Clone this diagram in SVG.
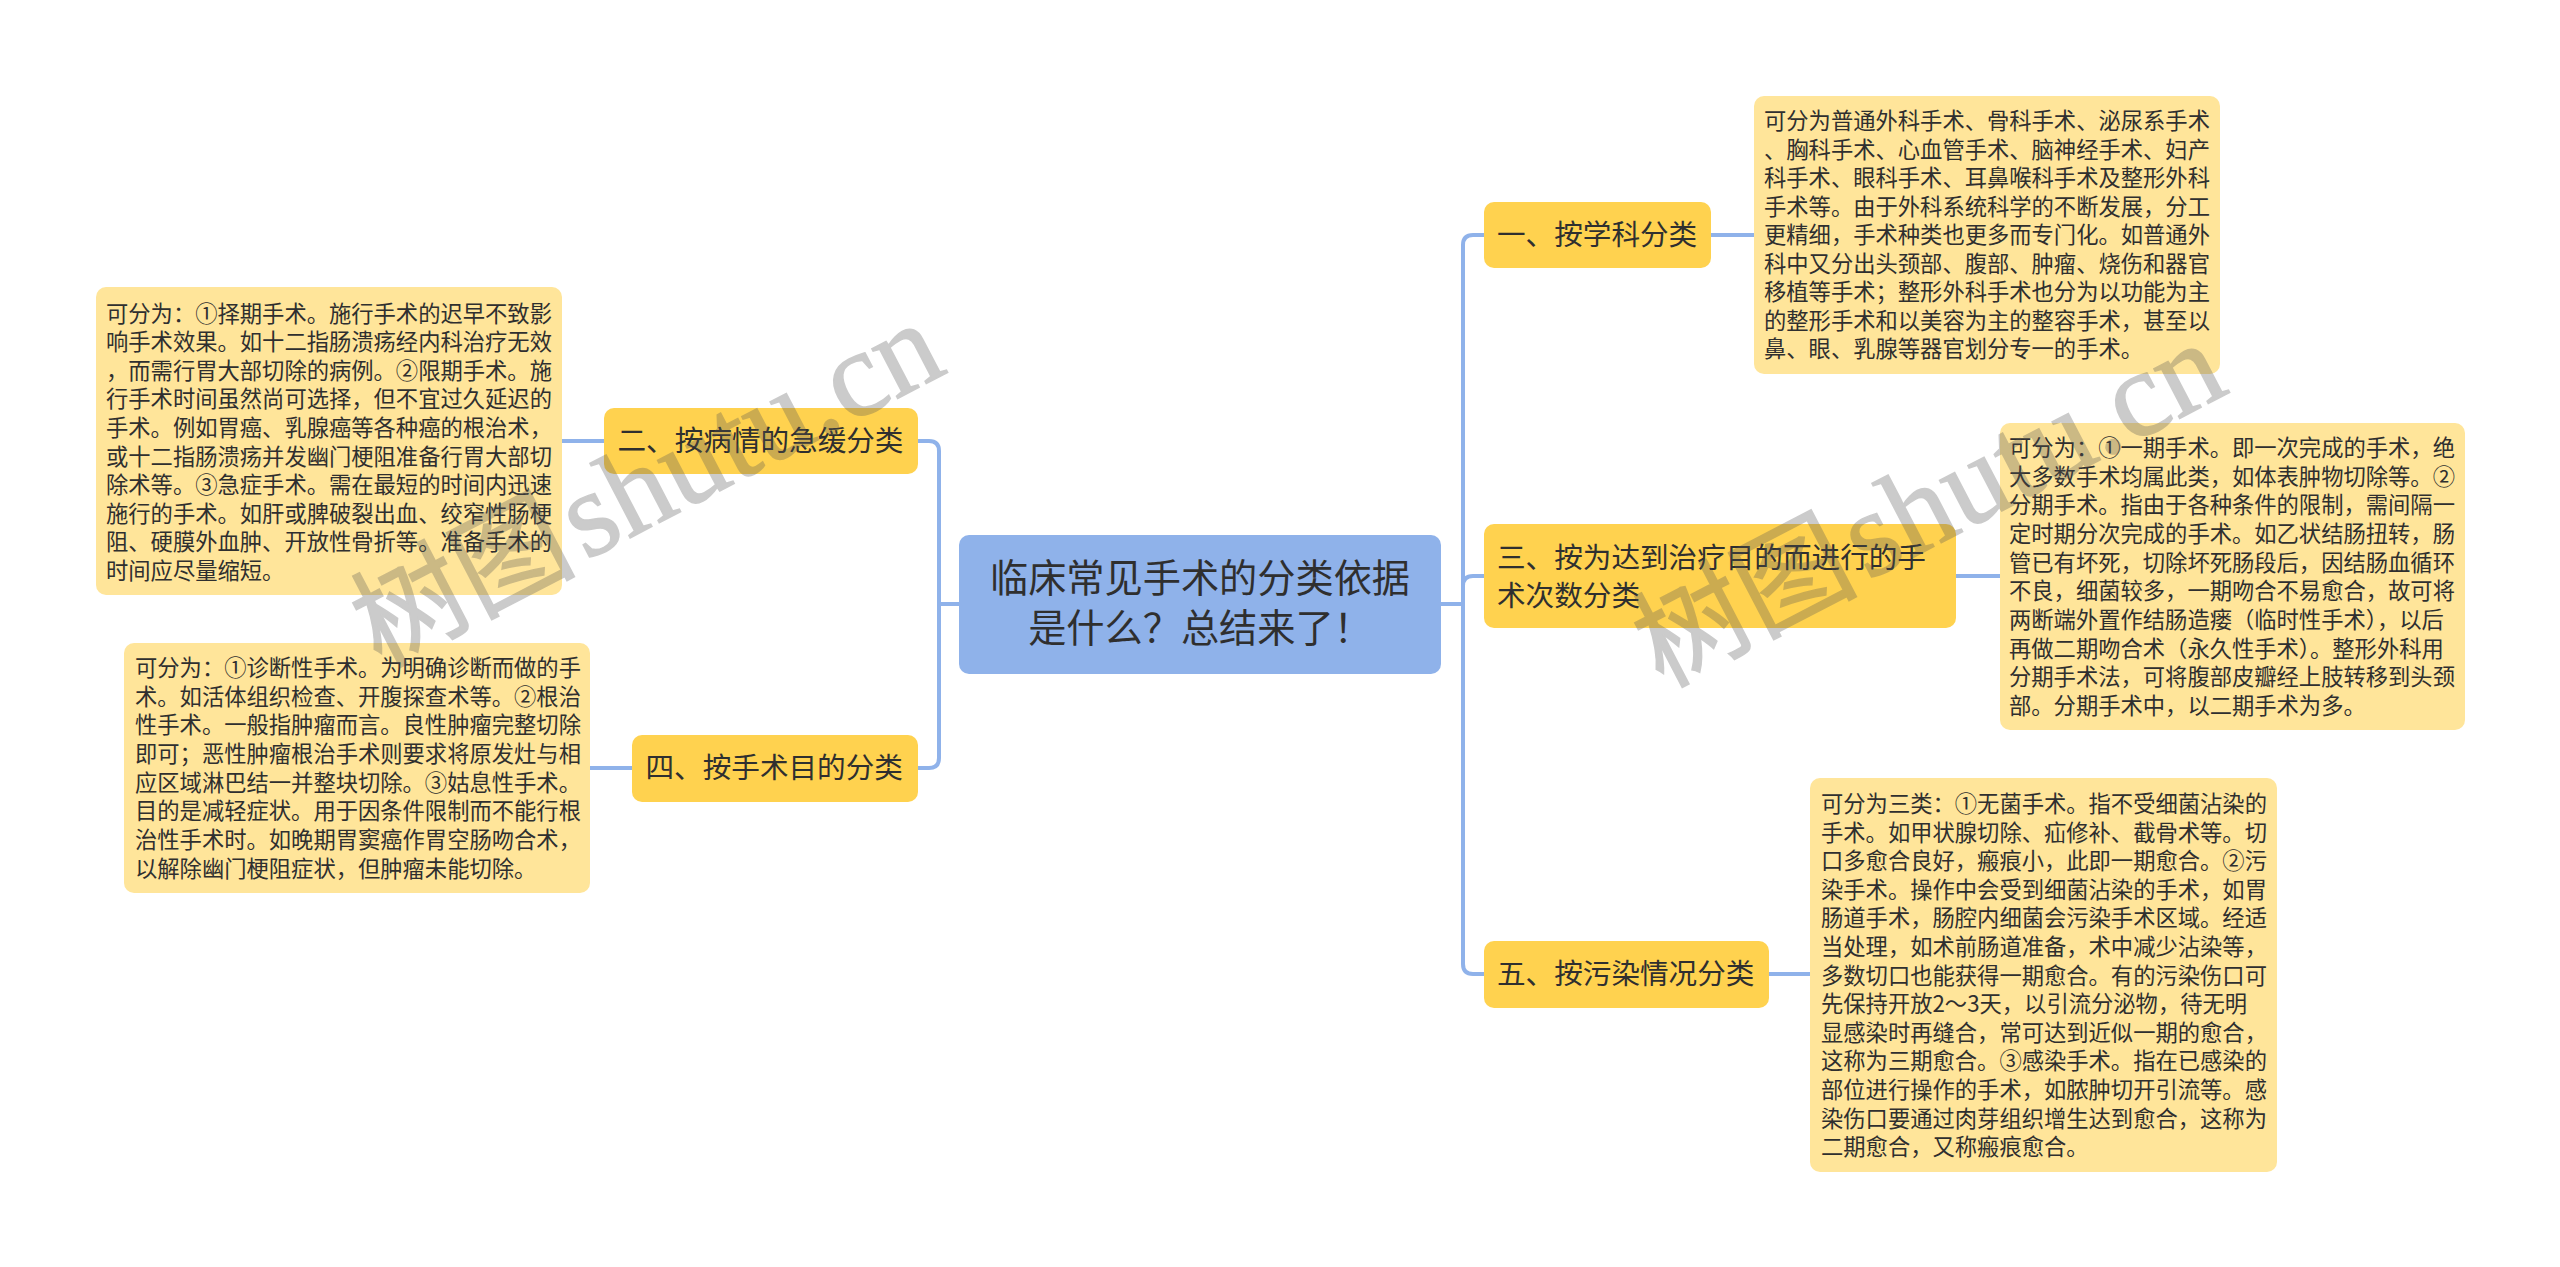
<svg xmlns="http://www.w3.org/2000/svg" width="2560" height="1267" viewBox="0 0 2560 1267">
<style>
text{font-family:"Noto Sans CJK SC","Liberation Sans",sans-serif;fill:#2f2f2f}
.note rect{fill:#FFE59A}
.note text{font-size:22.3px}
.topic rect{fill:#FFD24F}
.topic text{font-size:28.6px}
#root rect{fill:#8FB2EA}
#root text{font-size:38.2px;text-anchor:middle}
#connectors path{fill:none;stroke:#8FB2EA;stroke-width:4}
#watermarks text{font-family:"Liberation Serif","Noto Sans CJK SC",serif;font-size:112px;fill:#555;stroke:#555;stroke-width:1.5;opacity:.3}
#watermarks tspan{font-size:122px}
</style>
<rect width="2560" height="1267" fill="#fff"/>
<g id="connectors">
<path d="M959 604H939M917 441H929Q939 441 939 451V758Q939 768 929 768H917"/>
<path d="M1441 604H1462M1484 235H1473Q1463 235 1463 245V964Q1463 974 1473 974H1484M1484 576H1473Q1463 576 1463 586"/>
<path d="M562 441H604M590 768H632M1711 235H1754M1956 576H2000M1768 974H1810"/>
</g>
<g id="root"><rect x="959" y="535" width="482" height="139" rx="10"/>
<text x="1200" y="592">临床常见手术的分类依据</text><text x="1200" y="642">是什么？总结来了！</text></g>
<g id="topic1" class="topic"><rect x="1484" y="202" width="227" height="66" rx="10"/><text x="1497" y="245">一、按学科分类</text></g>
<g id="topic2" class="topic"><rect x="604" y="408" width="314" height="66" rx="10"/><text x="617.500" y="451">二、按病情的急缓分类</text></g>
<g id="topic3" class="topic"><rect x="1484" y="524" width="472" height="104" rx="10"/><text x="1497" y="568">三、按为达到治疗目的而进行的手</text><text x="1497" y="606">术次数分类</text></g>
<g id="topic4" class="topic"><rect x="632" y="735" width="286" height="67" rx="10"/><text x="645.500" y="778">四、按手术目的分类</text></g>
<g id="topic5" class="topic"><rect x="1484" y="941" width="285" height="67" rx="10"/><text x="1497" y="984">五、按污染情况分类</text></g>
<g id="note1" class="note"><rect x="1754" y="96" width="466" height="278" rx="10"/>
<text x="1764" y="129">可分为普通外科手术、骨科手术、泌尿系手术</text>
<text x="1764" y="157.500">、胸科手术、心血管手术、脑神经手术、妇产</text>
<text x="1764" y="186">科手术、眼科手术、耳鼻喉科手术及整形外科</text>
<text x="1764" y="214.500">手术等。由于外科系统科学的不断发展，分工</text>
<text x="1764" y="243">更精细，手术种类也更多而专门化。如普通外</text>
<text x="1764" y="271.500">科中又分出头颈部、腹部、肿瘤、烧伤和器官</text>
<text x="1764" y="300">移植等手术；整形外科手术也分为以功能为主</text>
<text x="1764" y="328.500">的整形手术和以美容为主的整容手术，甚至以</text>
<text x="1764" y="357">鼻、眼、乳腺等器官划分专一的手术。</text></g>
<g id="note2" class="note"><rect x="96" y="287" width="466" height="308" rx="10"/>
<text x="106" y="321.500">可分为：①择期手术。施行手术的迟早不致影</text>
<text x="106" y="350">响手术效果。如十二指肠溃疡经内科治疗无效</text>
<text x="106" y="378.700">，而需行胃大部切除的病例。②限期手术。施</text>
<text x="106" y="407.300">行手术时间虽然尚可选择，但不宜过久延迟的</text>
<text x="106" y="435.900">手术。例如胃癌、乳腺癌等各种癌的根治术，</text>
<text x="106" y="464.500">或十二指肠溃疡并发幽门梗阻准备行胃大部切</text>
<text x="106" y="493.100">除术等。③急症手术。需在最短的时间内迅速</text>
<text x="106" y="521.700">施行的手术。如肝或脾破裂出血、绞窄性肠梗</text>
<text x="106" y="550.300">阻、硬膜外血肿、开放性骨折等。准备手术的</text>
<text x="106" y="578.900">时间应尽量缩短。</text></g>
<g id="note3" class="note"><rect x="2000" y="423" width="465" height="307" rx="10"/>
<text x="2009" y="456">可分为：①一期手术。即一次完成的手术，绝</text>
<text x="2009" y="484.700">大多数手术均属此类，如体表肿物切除等。②</text>
<text x="2009" y="513.400">分期手术。指由于各种条件的限制，需间隔一</text>
<text x="2009" y="542">定时期分次完成的手术。如乙状结肠扭转，肠</text>
<text x="2009" y="570.700">管已有坏死，切除坏死肠段后，因结肠血循环</text>
<text x="2009" y="599.400">不良，细菌较多，一期吻合不易愈合，故可将</text>
<text x="2009" y="628">两断端外置作结肠造瘘（临时性手术），以后</text>
<text x="2009" y="656.700">再做二期吻合术（永久性手术）。整形外科用</text>
<text x="2009" y="685.400">分期手术法，可将腹部皮瓣经上肢转移到头颈</text>
<text x="2009" y="714">部。分期手术中，以二期手术为多。</text></g>
<g id="note4" class="note"><rect x="124" y="643" width="466" height="250" rx="10"/>
<text x="135" y="676">可分为：①诊断性手术。为明确诊断而做的手</text>
<text x="135" y="704.700">术。如活体组织检查、开腹探查术等。②根治</text>
<text x="135" y="733.400">性手术。一般指肿瘤而言。良性肿瘤完整切除</text>
<text x="135" y="762">即可；恶性肿瘤根治手术则要求将原发灶与相</text>
<text x="135" y="790.700">应区域淋巴结一并整块切除。③姑息性手术。</text>
<text x="135" y="819.400">目的是减轻症状。用于因条件限制而不能行根</text>
<text x="135" y="848">治性手术时。如晚期胃窦癌作胃空肠吻合术，</text>
<text x="135" y="876.700">以解除幽门梗阻症状，但肿瘤未能切除。</text></g>
<g id="note5" class="note"><rect x="1810" y="778" width="467" height="394" rx="10"/>
<text x="1821" y="812">可分为三类：①无菌手术。指不受细菌沾染的</text>
<text x="1821" y="840.600">手术。如甲状腺切除、疝修补、截骨术等。切</text>
<text x="1821" y="869.200">口多愈合良好，瘢痕小，此即一期愈合。②污</text>
<text x="1821" y="897.800">染手术。操作中会受到细菌沾染的手术，如胃</text>
<text x="1821" y="926.400">肠道手术，肠腔内细菌会污染手术区域。经适</text>
<text x="1821" y="955">当处理，如术前肠道准备，术中减少沾染等，</text>
<text x="1821" y="983.600">多数切口也能获得一期愈合。有的污染伤口可</text>
<text x="1821" y="1012.200">先保持开放2～3天，以引流分泌物，待无明</text>
<text x="1821" y="1040.800">显感染时再缝合，常可达到近似一期的愈合，</text>
<text x="1821" y="1069.400">这称为三期愈合。③感染手术。指在已感染的</text>
<text x="1821" y="1098">部位进行操作的手术，如脓肿切开引流等。感</text>
<text x="1821" y="1126.600">染伤口要通过肉芽组织增生达到愈合，这称为</text>
<text x="1821" y="1155.200">二期愈合，又称瘢痕愈合。</text></g>
<g id="watermarks">
<text transform="translate(380 668) rotate(-27.500)">树图 <tspan dx="-20">shutu.cn</tspan></text>
<text transform="translate(1662 688) rotate(-27.500)">树图 <tspan dx="-20">shutu.cn</tspan></text>
</g>
</svg>
